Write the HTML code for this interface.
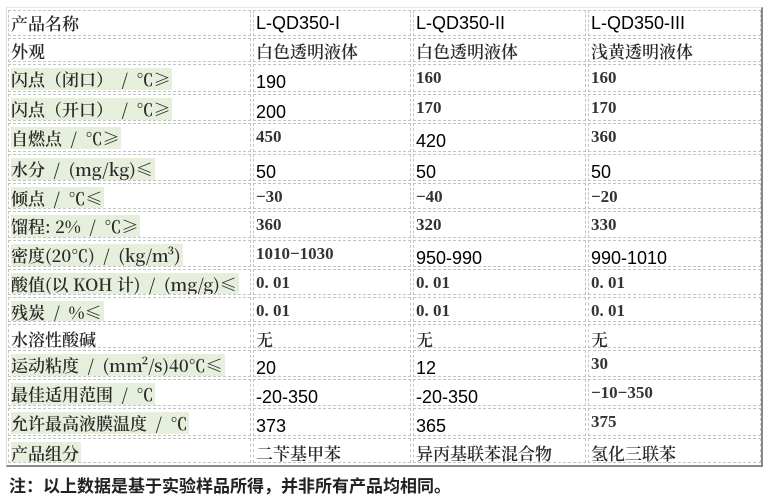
<!DOCTYPE html>
<html><head><meta charset="utf-8"><style>
body{margin:0;width:768px;height:498px;background:#fff;position:relative;overflow:hidden;font-family:"Noto Serif CJK SC","Liberation Serif",serif;color:#2a2a2a}
.frame{position:absolute;left:6px;top:7px;width:757px;height:460px;border-top:1px solid #eee8d8;border-left:1px solid #ddd;border-right:2px solid #888;border-bottom:2px solid #888;box-sizing:border-box}
.c{position:absolute;border:1px dashed #c4c4c4;box-sizing:border-box;white-space:nowrap;overflow:hidden;font-size:17px;padding-left:2px;line-height:22px;font-weight:600}
.g{background:#e6efdc}
.s{font-family:"Liberation Sans",sans-serif;font-size:18px;color:#000;font-weight:normal}
.r{font-family:"Liberation Serif",serif;font-size:17px;font-weight:bold;color:#333}
.note{position:absolute;left:9px;top:472px;font-family:"Liberation Sans","Noto Sans CJK SC",sans-serif;font-weight:bold;font-size:17px;color:#222}
</style></head><body>
<div class="frame"></div>
<div id="t"></div>
<div class="note">注：以上数据是基于实验样品所得，并非所有产品均相同。</div>
<script>
var tops=[10,38,64,94,123,154,183,211,240,269,297,324,350,379,408,438,465];
var xs=[[8,251],[253,411],[413,586],[588,761]];
var rows=[
["产品名称","s:L-QD350-I","s:L-QD350-II","s:L-QD350-III",0],
["外观","白色透明液体","白色透明液体","浅黄透明液体",0],
["闪点（闭口） / ℃≥","s:190","r:160","r:160",1],
["闪点（开口） / ℃≥","s:200","r:170","r:170",1],
["自燃点 / ℃≥","r:450","s:420","r:360",1],
["水分 / (mg/kg)≤","s:50","s:50","s:50",1],
["倾点 / ℃≤","r:−30","r:−40","r:−20",1],
["馏程: 2% / ℃≥","r:360","r:320","r:330",1],
["密度(20℃) / (kg/m³)","r:1010−1030","s:950-990","s:990-1010",1],
["酸值(以 KOH 计) / (mg/g)≤","r:0. 01","r:0. 01","r:0. 01",1],
["残炭 / %≤","r:0. 01","r:0. 01","r:0. 01",1],
["水溶性酸碱","无","无","无",0],
["运动粘度 / (mm²/s)40℃≤","s:20","s:12","r:30",1],
["最佳适用范围 / ℃","s:-20-350","s:-20-350","r:−10−350",1],
["允许最高液膜温度 / ℃","s:373","s:365","r:375",1],
["产品组分","二苄基甲苯","异丙基联苯混合物","氢化三联苯",1]];
var h="";
rows.forEach(function(r,i){
 var t=tops[i],b=tops[i+1]-2;
 for(var j=0;j<4;j++){
  var v=r[j],cls="c",pt=3;
  if(v.indexOf("s:")==0){cls+=" s";v=v.slice(2);pt=6}
  else if(v.indexOf("r:")==0){cls+=" r";v=v.slice(2);pt=2}
  if(i<2)pt=1;
  if(j==0)v=v.replace(" / ","&ensp;/&ensp;");
  var inner=v;
  if(j==0&&r[4])inner='<span class="g" style="display:inline-block;padding-right:2px">'+v+'</span>';
  h+='<div class="'+cls+'" style="left:'+xs[j][0]+'px;top:'+t+'px;width:'+(xs[j][1]-xs[j][0])+'px;height:'+(b-t)+'px;padding-top:'+pt+'px">'+inner+'</div>';
 }
});
document.getElementById("t").innerHTML=h;
</script>
</body></html>
